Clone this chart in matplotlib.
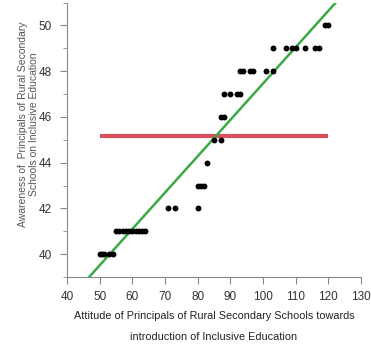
import matplotlib
matplotlib.use("Agg")
import matplotlib.pyplot as plt
import numpy as np

# Attitude score (x) and awareness score (y) for each principal
attitude = [50, 50.6, 51.2, 53, 54,
            55, 56, 57, 58, 59, 60, 61, 62, 63, 64,
            71, 73, 80,
            80, 81, 82,
            83,
            85, 87,
            87, 88,
            88, 90, 92, 93,
            93, 94, 96, 97, 101, 103,
            103, 107, 109, 110, 113, 116, 117,
            119, 120]
awareness = [40, 40, 40, 40, 40,
             41, 41, 41, 41, 41, 41, 41, 41, 41, 41,
             42, 42, 42,
             43, 43, 43,
             44,
             45, 45,
             46, 46,
             47, 47, 47, 47,
             48, 48, 48, 48, 48, 48,
             49, 49, 49, 49, 49, 49, 49,
             50, 50]

# Fitted regression line and mean awareness level
fit_intercept = 31.56
fit_slope = 0.159
mean_awareness = 45.15

x_ticks = [40, 50, 60, 70, 80, 90, 100, 110, 120, 130]
y_ticks = [40, 42, 44, 46, 48, 50]

plt.rcParams['font.family'] = ['Liberation Sans', 'DejaVu Sans']

fig = plt.figure(figsize=(3.71, 3.49), dpi=100)
ax = fig.add_axes([67/371, 1 - 277/349, (361 - 67)/371, (277 - 2.6)/349])

ax.set_xlim(40, 130)
ax.set_ylim(39, 51)

# Mean line across the observed attitude range
ax.plot([min(attitude), max(attitude)], [mean_awareness, mean_awareness],
        color='#d9505c', lw=3.0, solid_capstyle='butt', zorder=2)

# Regression line across the full axis width
xs = np.array([40, 130])
ax.plot(xs, fit_intercept + fit_slope * xs, color='#3aaa45', lw=1.8, zorder=3)

ax.scatter(attitude, awareness, s=18, color='black', zorder=4, linewidths=0)

ax.set_xticks(x_ticks)
ax.set_yticks(y_ticks)
ax.set_yticks(np.arange(39, 52, 1), minor=True)
for side in ('top', 'right'):
    ax.spines[side].set_visible(False)
for side in ('left', 'bottom'):
    ax.spines[side].set_color('#888888')
    ax.spines[side].set_linewidth(0.8)
ax.tick_params(axis='both', which='major', length=5, color='#888888',
               labelsize=8.5, labelcolor='#333333')
ax.tick_params(axis='y', which='minor', length=3, color='#888888')
ax.tick_params(axis='x', pad=5)
ax.tick_params(axis='y', pad=6)

fig.text(214/371, 1 - 316/349, 'Attitude of Principals of Rural Secondary Schools towards',
         ha='center', va='center', fontsize=7.8, color='#222222')
fig.text(214/371, 1 - 337/349, 'introduction of Inclusive Education',
         ha='center', va='center', fontsize=7.8, color='#222222')
fig.text(23.5/371, 1 - 124/349, 'Awareness of  Principals of Rural Secondary',
         ha='center', va='center', rotation=90, fontsize=7.5, color='#555555')
fig.text(34/371, 1 - 124/349, 'Schools on Inclusive Education',
         ha='center', va='center', rotation=90, fontsize=7.5, color='#555555')

fig.savefig('out.png', dpi=100)
